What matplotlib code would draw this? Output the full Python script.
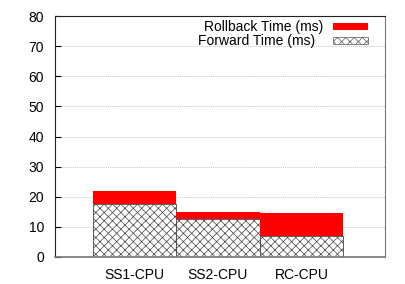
import matplotlib
matplotlib.use("Agg")
import matplotlib.pyplot as plt
from matplotlib.patches import Rectangle

categories = ["SS1-CPU", "SS2-CPU", "RC-CPU"]
forward = [17.6, 12.6, 7.0]
rollback = [4.4, 2.4, 7.5]
yticks = [0, 10, 20, 30, 40, 50, 60, 70, 80]
legend_labels = ["Rollback Time (ms)", "Forward Time (ms)"]

plt.rcParams['font.family'] = ['Liberation Sans', 'DejaVu Sans']
plt.rcParams['hatch.linewidth'] = 0.5
plt.rcParams['hatch.color'] = '#444444'

W, H = 405, 284
fig = plt.figure(figsize=(W/100, H/100), dpi=100)
ax = fig.add_axes([55/W, 1-257/H, 330/W, 241/H])

x = list(range(len(categories)))
ax.bar(x, forward, width=1.0, color='white', edgecolor='#444444', linewidth=0.6,
       hatch='xxxx', zorder=2)
ax.bar(x, rollback, width=1.0, bottom=forward, color='#ff0000', edgecolor='#ff0000',
       linewidth=0.0, zorder=2)

ax.set_xlim(-0.95, 3.0)
ax.set_ylim(0, 80)
ax.set_yticks(yticks)
ax.set_xticks(x)
ax.set_xticklabels(categories)
ax.tick_params(axis='y', direction='in', length=4, labelsize=10, pad=8)
ax.tick_params(axis='x', length=0, labelsize=10, pad=8)
ax.yaxis.grid(True, linestyle=(0, (1, 1)), color='#c8c8c8', linewidth=0.7, zorder=0)
for s in ax.spines.values():
    s.set_color('#222222')
    s.set_linewidth(0.8)
ax.spines['bottom'].set_color('#777777')
ax.spines['bottom'].set_linewidth(1.2)
ax.spines['right'].set_color('#777777')

# gnuplot-style key, placed by hand (figure pixel coordinates)
def fy(py):
    return 1 - py / H

fig.text(323/W, fy(26.5), legend_labels[0], ha='right', va='center', fontsize=10)
fig.text(315/W, fy(40.5), legend_labels[1], ha='right', va='center', fontsize=10)
fig.add_artist(Rectangle((333/W, fy(30)), 35/W, 7/H, transform=fig.transFigure,
                         facecolor='#ff0000', edgecolor='none'))
fig.add_artist(Rectangle((333/W, fy(44)), 35/W, 7/H, transform=fig.transFigure,
                         facecolor='white', edgecolor='#555555', linewidth=0.5,
                         hatch='xxxx'))

fig.savefig("out.png", dpi=100)
